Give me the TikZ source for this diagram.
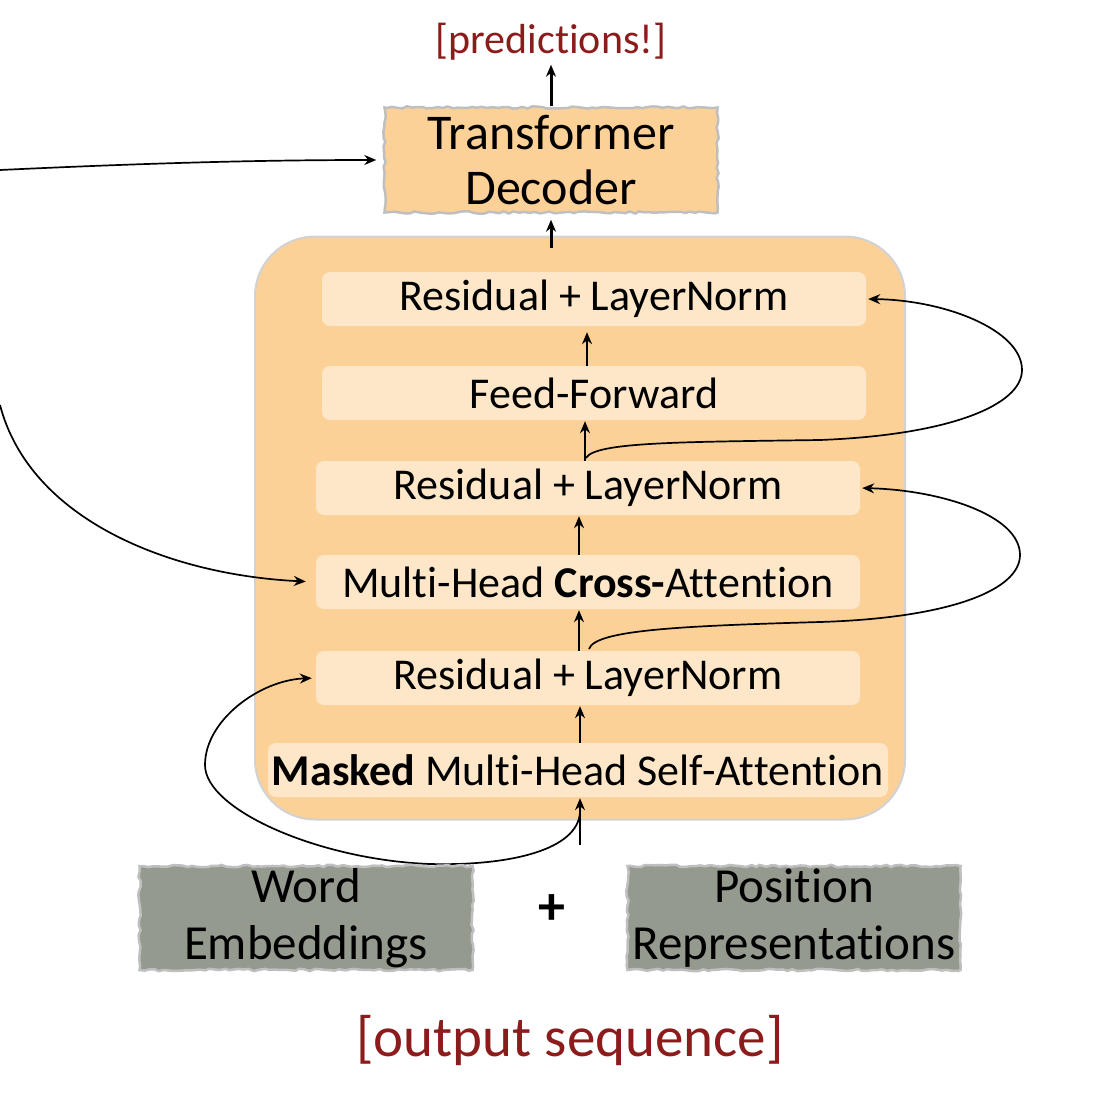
\documentclass[tikz,border=0pt]{standalone}
\usepackage{fontspec}
\setmainfont[Ligatures=NoCommon]{Carlito}
\usetikzlibrary{arrows.meta,decorations.pathmorphing}
\definecolor{dred}{RGB}{140,28,28}
\definecolor{orng}{RGB}{252,209,151}
\definecolor{lite}{RGB}{253,231,200}
\definecolor{emb}{RGB}{149,154,143}
\begin{document}
\begin{tikzpicture}[x=1pt,y=-1pt,
  arr/.style={-{Stealth[length=12pt,width=10pt]}, line width=1.7pt},
  inbox/.style={fill=lite, rounded corners=8pt, minimum height=54pt, inner sep=0pt, font=\fontsize{44}{48}\selectfont},
  rough/.style={draw=gray!50, line width=2.5pt, decorate, decoration={random steps, segment length=5pt, amplitude=1.2pt}},
  decbox/.style={rough, fill=orng, inner sep=0pt, align=center, font=\fontsize{50}{55}\selectfont},
  embbox/.style={rough, fill=emb, inner sep=0pt, align=center, font=\fontsize{49}{57}\selectfont, minimum width=333pt, minimum height=104pt},
  bigbox/.style={fill=orng, draw=gray!35, line width=2pt, rounded corners=60pt},
  redtxt/.style={text=dred, inner sep=0pt}
]
\useasboundingbox (0,0) rectangle (1120,1100);

\node[redtxt, font=\fontsize{42}{46}\selectfont] (pr) at (551,42) {[predictions!]};
\node[decbox, minimum width=333pt, minimum height=105pt] (dec) at (551,160) {Transformer\\Decoder};
\draw[arr, line width=3pt] (dec.north) -- ([yshift=-4pt]pr.south);

\node[bigbox, minimum width=650pt, minimum height=583pt] (big) at (580,528) {};
\coordinate (bigtop) at (dec.south |- big.north);
\draw[arr, line width=3pt] ([yshift=-12pt]bigtop) -- ([yshift=-6pt]dec.south);

\node[inbox, minimum width=544pt] (rl1) at (594,299) {Residual + LayerNorm};
\node[inbox, minimum width=544pt] (ff) at (594,393) {Feed-Forward};
\node[inbox, minimum width=544pt] (rl2) at (588,488) {Residual + LayerNorm};
\node[inbox, minimum width=544pt] (ca) at (588,582) {Multi-Head \textbf{Cross-}Attention};
\node[inbox, minimum width=544pt] (rl3) at (588,678) {Residual + LayerNorm};
\node[inbox, minimum width=620pt] (msa) at (578,770) {\textbf{Masked} Multi-Head Self-Attention};

\draw[arr, shorten >=6pt] ([xshift=-7pt]ff.north) -- ([xshift=-7pt]rl1.south);
\draw[arr, shorten >=1pt] ([xshift=-3pt]rl2.north) -- ([xshift=-9pt]ff.south);
\draw[arr, shorten >=1pt] ([xshift=-9pt]ca.north) -- ([xshift=-9pt]rl2.south);
\draw[arr, shorten >=1pt] ([xshift=-9pt]rl3.north) -- ([xshift=-9pt]ca.south);
\draw[arr, shorten >=1pt] ([xshift=2pt]msa.north) -- ([xshift=-8pt]rl3.south);

\coordinate (inp) at (580,845);
\draw[arr, shorten >=1pt] (inp) -- ([xshift=2pt]msa.south);

% residual loops
\coordinate (sA) at (580,812);
\draw[arr, shorten >=4pt] (sA) .. controls (578,850) and (510,866) .. (430,864)
  .. controls (320,860) and (205,810) .. (205,765)
  .. controls (205,720) and (260,680) .. (rl3.west);
\coordinate (sB) at (589,649);
\draw[arr, shorten >=2pt] (sB) .. controls (595,630) and (680,626) .. (820,622)
  .. controls (950,618) and (1020,590) .. (1020,555)
  .. controls (1020,515) and (940,490) .. (rl2.east);
\coordinate (sC) at (586,458);
\draw[arr, shorten >=2pt] (sC) .. controls (595,442) and (680,442) .. (820,440)
  .. controls (950,435) and (1022,405) .. (1022,370)
  .. controls (1022,330) and (945,300) .. (rl1.east);

% encoder inputs
\coordinate (encA) at (0,405);
\draw[arr, shorten >=10pt] (encA) .. controls (30,520) and (170,575) .. (ca.west);
\coordinate (encB) at (0,170);
\draw[arr, shorten >=7pt] (encB) .. controls (150,163) and (260,160) .. (dec.west);

% embeddings
\node[embbox] (we) at (306,918) {Word\\Embeddings};
\node[embbox] (pe) at (794,918) {Position\\Representations};
\node[font=\fontsize{54}{54}\selectfont\bfseries] (plus) at (552,910) {+};
\node[redtxt, font=\fontsize{57}{62}\selectfont] (out) at (570,1040) {[output sequence]};
\end{tikzpicture}
\end{document}
